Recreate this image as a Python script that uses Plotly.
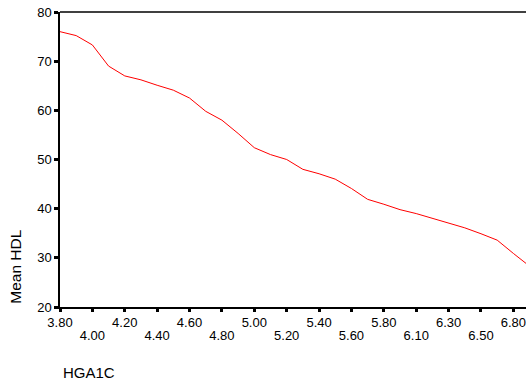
import plotly.graph_objects as go

# HGA1C categories (every other one is labelled on the axis)
categories = ["3.80", "3.90", "4.00", "4.10", "4.20", "4.30", "4.40", "4.50", "4.60", "4.70",
              "4.80", "4.90", "5.00", "5.10", "5.20", "5.30", "5.40", "5.50", "5.60", "5.70",
              "5.80", "5.90", "6.10", "6.20", "6.30", "6.40", "6.50", "6.70", "6.80", "6.90"]
mean_hdl = [76.0, 75.2, 73.3, 69.0, 67.0, 66.2, 65.1, 64.1, 62.5, 59.8,
            58.0, 55.3, 52.4, 51.0, 50.0, 48.0, 47.1, 46.0, 44.1, 41.9,
            40.9, 39.8, 39.0, 38.0, 37.1, 36.1, 34.9, 33.6, 30.9, 28.3]

top_row_ticks = ["3.80", "4.20", "4.60", "5.00", "5.40", "5.80", "6.30", "6.80"]
bottom_row_ticks = ["4.00", "4.40", "4.80", "5.20", "5.60", "6.10", "6.50"]
y_ticks = [20, 30, 40, 50, 60, 70, 80]

FONT = "Liberation Sans, Arial, sans-serif"

fig = go.Figure()
fig.add_trace(go.Scatter(
    x=categories, y=mean_hdl, mode="lines",
    line=dict(color="#ff0000", width=1),
    showlegend=False, hoverinfo="skip",
))
# carrier for the second (staggered) label row; not drawn
fig.add_trace(go.Scatter(
    x=categories, y=mean_hdl, mode="lines", xaxis="x2", yaxis="y",
    line=dict(color="rgba(0,0,0,0)", width=0),
    showlegend=False, hoverinfo="skip",
))

all_ticks = [c for c in categories if c in top_row_ticks or c in bottom_row_ticks]
x_range = [0, 28.78]

fig.update_layout(
    width=526, height=380,
    margin=dict(l=60, r=0, t=12, b=73, autoexpand=False),
    paper_bgcolor="white", plot_bgcolor="white",
    font=dict(family=FONT, size=13, color="black"),
    xaxis=dict(
        type="category", categoryorder="array", categoryarray=categories,
        range=x_range, automargin=False, ticklabeloverflow="allow",
        tickmode="array", tickvals=all_ticks,
        ticktext=[c if c in top_row_ticks else "" for c in all_ticks],
        ticks="outside", ticklen=3, tickwidth=3, tickcolor="black",
        showline=True, linecolor="black", linewidth=1.5,
        showgrid=False, zeroline=False,
        tickfont=dict(family=FONT, size=13, color="black"),
    ),
    xaxis2=dict(
        type="category", categoryorder="array", categoryarray=categories,
        overlaying="x", anchor="y", side="bottom", range=x_range, automargin=False,
        ticklabeloverflow="allow",
        tickmode="array", tickvals=bottom_row_ticks, ticktext=bottom_row_ticks,
        ticks="", showline=False, showgrid=False, zeroline=False,
        ticklabelstandoff=19,
        tickfont=dict(family=FONT, size=13, color="black"),
    ),
    yaxis=dict(
        range=[20, 80], tickmode="array", tickvals=y_ticks, automargin=False,
        ticklabeloverflow="allow",
        ticks="outside", ticklen=4, tickwidth=3, tickcolor="black",
        showline=True, linecolor="black", linewidth=1.5,
        showgrid=False, zeroline=False,
        tickfont=dict(family=FONT, size=13, color="black"),
    ),
    shapes=[dict(type="line", xref="paper", yref="paper", x0=0, x1=1, y0=1, y1=1,
                 line=dict(color="black", width=1.5))],
    annotations=[
        dict(text="Mean HDL", xref="paper", yref="paper", x=-0.0944, y=0.1366,
             xanchor="center", yanchor="middle", textangle=-90, showarrow=False,
             font=dict(family=FONT, size=15.5, color="black")),
        dict(text="HGA1C", xref="paper", yref="paper", x=0.0015, y=-0.222,
             xanchor="left", yanchor="middle", showarrow=False,
             font=dict(family=FONT, size=15, color="black")),
    ],
)

fig.write_html(
    "out.html",
    config={"displayModeBar": False},
    post_script="document.body.style.margin='0';document.body.style.overflow='hidden';",
)
